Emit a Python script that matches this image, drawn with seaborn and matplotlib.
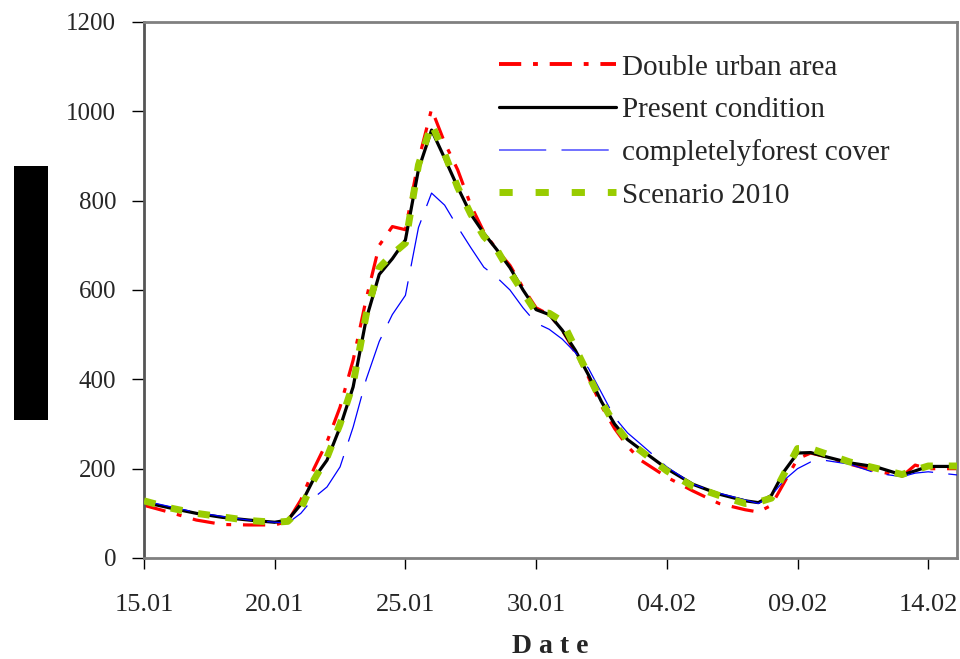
import matplotlib
matplotlib.use("Agg")
import matplotlib.pyplot as plt
from matplotlib.lines import Line2D
from matplotlib.patches import Rectangle
import seaborn as sns
import pandas as pd

# ---------------- data ----------------
days = [0, 1, 2, 3, 4, 5, 5.5, 6, 6.5, 7, 7.5, 8, 8.5, 9, 9.5, 10, 10.5, 11, 11.5, 12,
        12.5, 13, 13.5, 14, 14.5, 15, 15.5, 16, 16.5, 17, 17.5, 18, 18.5, 19,
        20, 21, 22, 23, 23.5, 24, 24.5, 25, 25.5, 26, 27, 28, 29, 29.5, 30, 31.1]

double_urban = [118, 102, 85, 75, 74, 74, 82, 130, 200, 260, 338, 443, 580, 700, 742, 735,
                890, 1005, 930, 869, 790, 730, 690, 655, 605, 560, 545, 510, 460, 405,
                340, 290, 250, 219, 181, 150, 122, 108, 103, 118, 170, 222, 235, 228,
                210, 195, 183, 208, 200, 200]

present = [125, 112, 100, 91, 85, 80, 85, 120, 178, 219, 293, 383, 535, 635, 670, 712,
           870, 958, 895, 830, 770, 727, 690, 650, 600, 556, 545, 510, 465, 410,
           350, 300, 265, 243, 200, 165, 143, 128, 124, 140, 195, 235, 236, 228,
           213, 204, 186, 195, 205, 205]

forest = [128, 115, 102, 93, 85, 80, 78, 100, 135, 159, 204, 293, 400, 485, 545, 588,
          740, 817, 790, 741, 695, 651, 628, 600, 560, 526, 512, 490, 460, 425,
          370, 315, 280, 255, 204, 165, 145, 130, 122, 140, 175, 200, 215, 219,
          210, 190, 182, 190, 193, 186]

scenario2010 = [128, 112, 100, 92, 84, 80, 82, 110, 175, 225, 300, 390, 545, 650, 680, 705,
                880, 972, 905, 830, 770, 720, 690, 640, 595, 550, 548, 530, 470, 410,
                350, 300, 262, 240, 195, 160, 140, 122, 125, 134, 190, 245, 245, 235,
                215, 201, 187, 197, 206, 206]

labels = ["Double urban area", "Present condition", "completelyforest cover", "Scenario 2010"]
tick_days = [0, 5, 10, 15, 20, 25, 30]
tick_labels = ["15.01", "20.01", "25.01", "30.01", "04.02", "09.02", "14.02"]
y_ticks = [0, 200, 400, 600, 800, 1000, 1200]

# ---------------- style ----------------
sns.set_theme(style="white")
plt.rcParams["font.family"] = ["Liberation Serif", "DejaVu Serif"]
plt.rcParams["lines.scale_dashes"] = False

fig = plt.figure(figsize=(9.6, 6.59), dpi=100)
ax = fig.add_axes([144 / 960, 1 - 558 / 659, (957 - 144) / 960, (558 - 22) / 659])

series = [
    (double_urban, "#FF0000", 2.3, (16, 8.5, 3.5, 8.5), 2),
    (present, "#000000", 2.3, None, 3),
    (forest, "#0000FF", 0.9, (34, 11), 4),
    (scenario2010, "#99CC00", 5.0, (8.5, 11.5), 5),
]

for (vals, col, lw, dash, z), lab in zip(series, labels):
    df = pd.DataFrame({"day": days, "q": vals})
    sns.lineplot(data=df, x="day", y="q", ax=ax, color=col, linewidth=lw,
                 estimator=None, sort=False, legend=False, zorder=z)
    ln = ax.lines[-1]
    ln.set_solid_capstyle("butt")
    ln.set_dash_capstyle("butt")
    if dash is not None:
        ln.set_dashes(dash)

ax.set_xlim(0, 31.1)
ax.set_ylim(0, 1200)
ax.set_xticks(tick_days)
ax.set_xticklabels(tick_labels, fontsize=19)
ax.set_yticks(y_ticks)
ax.set_yticklabels([str(v) for v in y_ticks], fontsize=18)
ax.tick_params(axis="y", direction="out", length=9, width=1, color="black", pad=11, left=True)
ax.tick_params(axis="x", direction="out", length=8, width=1, color="black", pad=18, bottom=True)

for side, sp in ax.spines.items():
    sp.set_visible(True)
    sp.set_color("#808080")
    sp.set_linewidth(2.0)
ax.spines["left"].set_color("#555555")

ax.set_xlabel("D a t e", fontsize=20, fontweight="bold", labelpad=13)
ax.set_ylabel("")

# legend with custom handles
handles = [
    Line2D([], [], color="#FF0000", lw=2.8, dashes=(16, 8.5, 3.5, 8.5)),
    Line2D([], [], color="#000000", lw=2.3),
    Line2D([], [], color="#6666FF", lw=1.3, dashes=(34, 11)),
    Line2D([], [], color="#99CC00", lw=5.0, dashes=(9.5, 16.5)),
]
for h in handles:
    h.set_dash_capstyle("butt")
leg = ax.legend(handles, labels, loc="upper left", bbox_to_anchor=(0.437, 0.94),
                frameon=False, fontsize=21, handlelength=4.0, handletextpad=0.2,
                labelspacing=0.55, borderpad=0, borderaxespad=0)

# y-axis label (redacted with black box in the reference)
fig.add_artist(Rectangle((14 / 960, 1 - 420 / 659), 34 / 960, 254 / 659,
                         transform=fig.transFigure, facecolor="black",
                         edgecolor="none", zorder=5))
fig.text(31 / 960, 1 - 293 / 659, "Discharge (m³/s)", rotation=90, ha="center",
         va="center", fontsize=18, fontweight="bold", color="black", zorder=6)

fig.savefig("out.png", dpi=100)
